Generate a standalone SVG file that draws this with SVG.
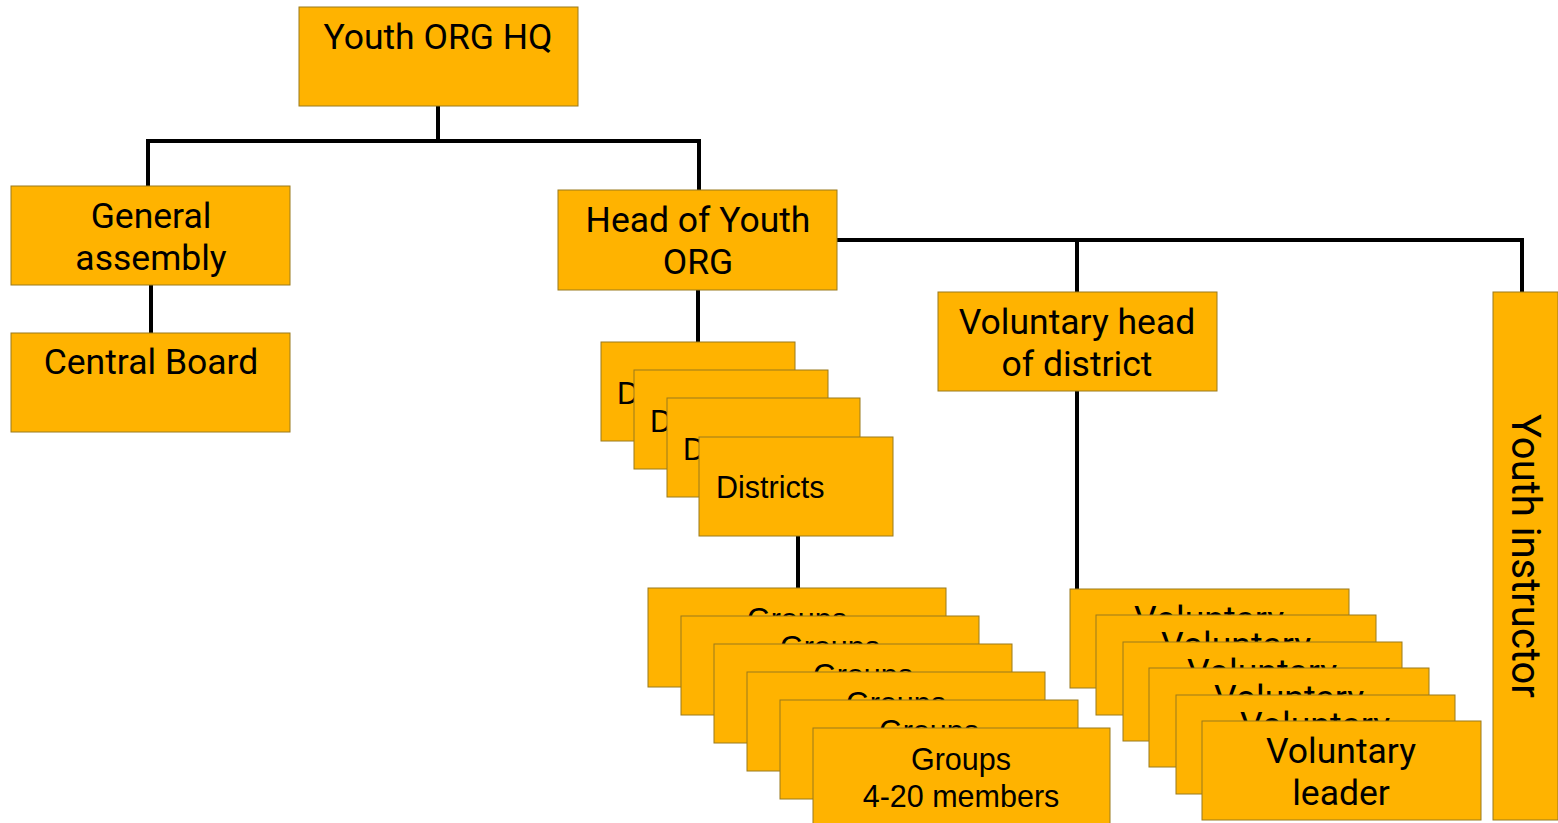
<svg xmlns="http://www.w3.org/2000/svg" width="1558" height="823" viewBox="0 0 1558 823">
<style>
.b{fill:#FFB300;stroke:#9A7A1C;stroke-width:1}
.t{font-family:Roboto,"Liberation Sans",sans-serif;font-size:35.5px;fill:#000;text-anchor:middle}
.a{font-family:"Liberation Sans",Arial,sans-serif;font-size:30.5px;fill:#000}
.m{text-anchor:middle}
.c{fill:none;stroke:#000;stroke-width:4}
</style>
<rect width="1558" height="823" fill="#fff"/>
<g id="connectors">
<path class="c" d="M438 106V141M148 141H699M148 139V186M699 139V190"/>
<path class="c" d="M151 285V333"/>
<path class="c" d="M837 240H1522M1077 238V292M1522 238V292"/>
<path class="c" d="M698 290V342"/>
<path class="c" d="M798 536V588"/>
<path class="c" d="M1077 391V589"/>
</g>
<g id="hq"><rect class="b" x="299" y="7" width="279" height="99"/><text class="t" x="438" y="49">Youth ORG HQ</text></g>
<g id="general"><rect class="b" x="11" y="186" width="279" height="99"/><text class="t" x="151" y="228">General</text><text class="t" x="151" y="270">assembly</text></g>
<g id="central"><rect class="b" x="11" y="333" width="279" height="99"/><text class="t" x="151" y="374">Central Board</text></g>
<g id="head"><rect class="b" x="558" y="190" width="279" height="100"/><text class="t" x="698" y="232">Head of Youth</text><text class="t" x="698" y="274">ORG</text></g>
<g id="districts">
<rect class="b" x="601" y="342" width="194" height="99"/><text class="a" x="617" y="404">Districts</text>
<rect class="b" x="634" y="370" width="194" height="99"/><text class="a" x="650" y="432">Districts</text>
<rect class="b" x="667" y="398" width="193" height="99"/><text class="a" x="683" y="460">Districts</text>
<rect class="b" x="699" y="437" width="194" height="99"/><text class="a" x="716" y="498">Districts</text>
</g>
<g id="groups">
<rect class="b" x="648" y="588" width="298" height="99"/><text class="a m" x="797" y="630">Groups</text><text class="a m" x="797" y="667">4-20 members</text>
<rect class="b" x="681" y="616" width="298" height="99"/><text class="a m" x="830" y="658">Groups</text><text class="a m" x="830" y="695">4-20 members</text>
<rect class="b" x="714" y="644" width="298" height="99"/><text class="a m" x="863" y="686">Groups</text><text class="a m" x="863" y="723">4-20 members</text>
<rect class="b" x="747" y="672" width="298" height="99"/><text class="a m" x="896" y="714">Groups</text><text class="a m" x="896" y="751">4-20 members</text>
<rect class="b" x="780" y="700" width="298" height="99"/><text class="a m" x="929" y="742">Groups</text><text class="a m" x="929" y="779">4-20 members</text>
<rect class="b" x="813" y="728" width="297" height="99"/><text class="a m" x="961" y="770">Groups</text><text class="a m" x="961" y="807">4-20 members</text>
</g>
<g id="vhead"><rect class="b" x="938" y="292" width="279" height="99"/><text class="t" x="1077" y="334">Voluntary head</text><text class="t" x="1077" y="376">of district</text></g>
<g id="leaders">
<rect class="b" x="1070" y="589" width="279" height="99"/><text class="t" x="1209" y="631">Voluntary</text><text class="t" x="1209" y="673">leader</text>
<rect class="b" x="1096" y="615" width="280" height="100"/><text class="t" x="1236" y="657">Voluntary</text><text class="t" x="1236" y="699">leader</text>
<rect class="b" x="1123" y="642" width="279" height="99"/><text class="t" x="1262" y="684">Voluntary</text><text class="t" x="1262" y="726">leader</text>
<rect class="b" x="1149" y="668" width="280" height="99"/><text class="t" x="1289" y="710">Voluntary</text><text class="t" x="1289" y="752">leader</text>
<rect class="b" x="1176" y="695" width="279" height="99"/><text class="t" x="1315" y="737">Voluntary</text><text class="t" x="1315" y="779">leader</text>
<rect class="b" x="1202" y="721" width="279" height="99"/><text class="t" x="1341" y="763">Voluntary</text><text class="t" x="1341" y="805">leader</text>
</g>
<g id="instructor"><rect class="b" x="1493" y="292" width="65" height="528"/><text class="t" style="font-size:40px" transform="translate(1512 556) rotate(90)" x="0" y="0">Youth instructor</text></g>
</svg>
